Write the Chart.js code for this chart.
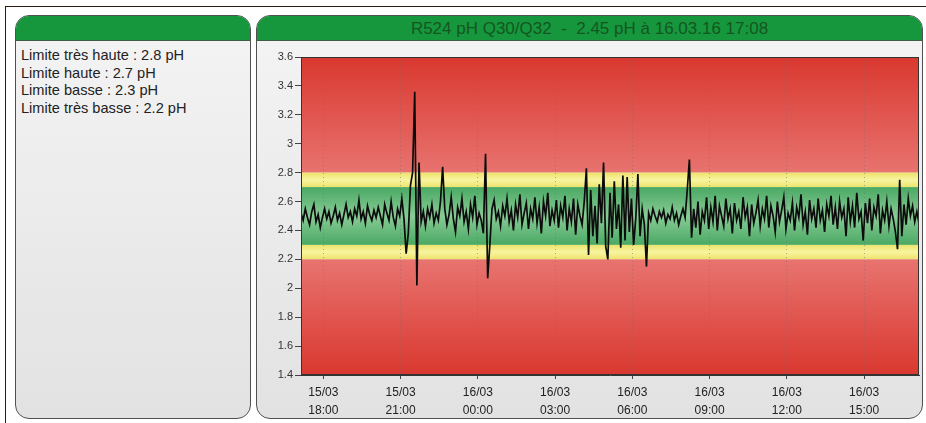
<!DOCTYPE html>
<html>
<head>
<meta charset="utf-8">
<script src="https://cdn.jsdelivr.net/npm/chart.js@4.4.0/dist/chart.umd.min.js"></script>
<style>
  body { margin: 0; background: #fff; width: 926px; height: 423px; overflow: hidden; position: relative; font-family: "Liberation Sans", Arial, sans-serif; }
  .frame { position: absolute; left: 5px; top: 6px; right: -10px; bottom: -10px; border-left: 1.5px solid #2a1a12; border-top: 1.5px solid #2a1a12; }
  .panel { position: absolute; top: 15px; height: 402px; border: 1px solid #505050; border-radius: 14px; overflow: hidden;
           background: linear-gradient(#f4f4f4, #e2e2e2); }
  .panel .head { height: 24px; background: #16973d; border-bottom: 1px solid #3c5c44; text-align: center;
                 color: #14561f; font-size: 17px; line-height: 25px; white-space: pre; }
  #left { left: 15px; width: 234px; }
  #right { left: 256px; width: 665px; }
  #limites { padding: 6px 0 0 5px; font-size: 14.6px; line-height: 17.5px; color: #222; }
  #wrap { position: absolute; left: 258px; top: 42px; width: 664px; height: 376px; }
</style>
</head>
<body>
<div class="frame"></div>
<div class="panel" id="left"><div class="head"></div><div id="limites"></div></div>
<div class="panel" id="right"><div class="head" id="titre"></div></div>
<div id="wrap"><canvas id="chartPh" width="664" height="376"></canvas></div>
<script>
const titre = 'R524 pH Q30/Q32  -  2.45 pH à 16.03.16 17:08';

const limiteNoms = ['Limite très haute', 'Limite haute', 'Limite basse', 'Limite très basse'];
const limiteValeurs = [2.8, 2.7, 2.3, 2.2];

const yMin = 1.4;
const yMax = 3.6;
const yPas = 0.2;

// heures depuis 15/03 00:00
const debutHeure = 17 + 8 / 60;
const finHeure = debutHeure + 24;
const pasMinutes = 5;
const ticksHeures = [18, 21, 24, 27, 30, 33, 36, 39];

// mesures pH, une toutes les 5 minutes depuis 15/03 17:08
const mesuresPh = [
  2.52, 2.47, 2.55, 2.49, 2.44, 2.53, 2.58, 2.46, 2.51, 2.42, 2.49, 2.55,
  2.48, 2.53, 2.45, 2.50, 2.56, 2.47, 2.52, 2.44, 2.51, 2.58, 2.49, 2.53,
  2.46, 2.55, 2.50, 2.61, 2.48, 2.53, 2.45, 2.57, 2.51, 2.47, 2.54, 2.49,
  2.56, 2.50, 2.44, 2.58, 2.52, 2.47, 2.60, 2.49, 2.43, 2.55, 2.50, 2.62,
  2.48, 2.24, 2.38, 2.71, 2.80, 3.36, 2.02, 2.87, 2.46, 2.53, 2.43, 2.55,
  2.49, 2.58, 2.45, 2.52, 2.47, 2.60, 2.84, 2.55, 2.44, 2.51, 2.63, 2.48,
  2.39, 2.56, 2.50, 2.62, 2.46, 2.53, 2.41, 2.58, 2.49, 2.64, 2.44, 2.52,
  2.47, 2.38, 2.93, 2.07, 2.30, 2.55, 2.61, 2.48, 2.53, 2.43, 2.57, 2.50,
  2.62, 2.46, 2.54, 2.40, 2.58, 2.49, 2.65, 2.44, 2.52, 2.59, 2.41, 2.55,
  2.48, 2.63, 2.45, 2.56, 2.38, 2.60, 2.50, 2.66, 2.43, 2.54, 2.47, 2.61,
  2.42, 2.57, 2.49, 2.64, 2.40, 2.55, 2.46, 2.62, 2.37, 2.58, 2.50, 2.44,
  2.60, 2.83, 2.23, 2.68, 2.36, 2.57, 2.31, 2.72, 2.45, 2.87, 2.29, 2.20,
  2.66, 2.35, 2.74, 2.41, 2.58, 2.28, 2.78, 2.33, 2.77, 2.39, 2.62, 2.30,
  2.48, 2.79, 2.36, 2.55, 2.44, 2.15, 2.52, 2.47, 2.55, 2.50, 2.46, 2.53,
  2.49, 2.54, 2.45, 2.51, 2.48, 2.56, 2.47, 2.52, 2.44, 2.50, 2.55, 2.49,
  2.68, 2.89, 2.35, 2.55, 2.42, 2.60, 2.37, 2.53, 2.47, 2.63, 2.41, 2.56,
  2.46, 2.64, 2.40, 2.57, 2.50, 2.43, 2.62, 2.48, 2.55, 2.38, 2.59, 2.47,
  2.53, 2.41, 2.63, 2.49, 2.56, 2.36, 2.58, 2.45, 2.52, 2.61, 2.43, 2.55,
  2.48, 2.64, 2.42, 2.57, 2.50, 2.39, 2.60, 2.46, 2.54, 2.63, 2.41, 2.52,
  2.47, 2.59, 2.40, 2.56, 2.49, 2.65, 2.44, 2.53, 2.37, 2.61, 2.48, 2.55,
  2.42, 2.62, 2.47, 2.54, 2.39, 2.58, 2.50, 2.64, 2.44, 2.56, 2.41, 2.60,
  2.49, 2.55, 2.36, 2.63, 2.46, 2.57, 2.42, 2.66, 2.48, 2.53, 2.33, 2.59,
  2.45, 2.62, 2.40, 2.56, 2.50, 2.65, 2.38, 2.54, 2.47, 2.60, 2.43, 2.55,
  2.48, 2.39, 2.27, 2.75, 2.36, 2.58, 2.44, 2.62, 2.50, 2.57, 2.46, 2.53,
  2.45
];

document.getElementById('titre').textContent = titre;
document.getElementById('limites').innerHTML = limiteNoms
  .map((nom, i) => `<div>${nom} : ${limiteValeurs[i]} pH</div>`).join('');

const points = mesuresPh.map((v, i) => ({ x: debutHeure + i * pasMinutes / 60, y: v }));

function pad2(n) { return String(n).padStart(2, '0'); }

// fond rouge / jaune / vert selon les limites
const pluginZones = {
  id: 'zones',
  beforeDraw(chart) {
    const { ctx, chartArea: a, scales: { y } } = chart;
    const [tresHaute, haute, basse, tresBasse] = limiteValeurs.map(v => y.getPixelForValue(v));
    const w = a.right - a.left;
    ctx.save();

    let g = ctx.createLinearGradient(0, a.top, 0, tresHaute);
    g.addColorStop(0, '#d9382f'); g.addColorStop(1, '#e8736f');
    ctx.fillStyle = g; ctx.fillRect(a.left, a.top, w, tresHaute - a.top);

    g = ctx.createLinearGradient(0, tresHaute, 0, haute);
    g.addColorStop(0, '#ede26a'); g.addColorStop(0.5, '#f8f4a0'); g.addColorStop(1, '#ebe46e');
    ctx.fillStyle = g; ctx.fillRect(a.left, tresHaute, w, haute - tresHaute);

    g = ctx.createLinearGradient(0, haute, 0, basse);
    g.addColorStop(0, '#4aa963'); g.addColorStop(0.5, '#88cb96'); g.addColorStop(1, '#4aa963');
    ctx.fillStyle = g; ctx.fillRect(a.left, haute, w, basse - haute);

    g = ctx.createLinearGradient(0, basse, 0, tresBasse);
    g.addColorStop(0, '#ebe46e'); g.addColorStop(0.5, '#f8f4a0'); g.addColorStop(1, '#ede26a');
    ctx.fillStyle = g; ctx.fillRect(a.left, basse, w, tresBasse - basse);

    g = ctx.createLinearGradient(0, tresBasse, 0, a.bottom);
    g.addColorStop(0, '#e8736f'); g.addColorStop(1, '#d9382f');
    ctx.fillStyle = g; ctx.fillRect(a.left, tresBasse, w, a.bottom - tresBasse);

    ctx.restore();
  },
  afterDatasetsDraw(chart) {
    const { ctx, chartArea: a } = chart;
    ctx.save();
    ctx.strokeStyle = '#333';
    ctx.lineWidth = 1;
    ctx.strokeRect(a.left + 0.5, a.top + 0.5, a.right - a.left - 1, a.bottom - a.top - 1);
    ctx.restore();
  }
};

new Chart(document.getElementById('chartPh').getContext('2d'), {
  type: 'line',
  data: {
    datasets: [{
      data: points,
      borderColor: '#0c0c0c',
      borderWidth: 1.7,
      pointRadius: 0,
      tension: 0
    }]
  },
  options: {
    responsive: false,
    animation: false,
    layout: { padding: { top: 15, right: 3, left: 0, bottom: 0 } },
    plugins: { legend: { display: false }, tooltip: { enabled: false }, title: { display: false } },
    scales: {
      x: {
        type: 'linear',
        min: debutHeure,
        max: finHeure,
        afterBuildTicks: scale => { scale.ticks = ticksHeures.map(v => ({ value: v })); },
        afterFit: scale => { scale.height = 43; },
        grid: { color: 'rgba(110,110,110,0.55)', tickColor: '#444', tickLength: 4 },
        border: { display: true, color: '#333', dash: [1, 3] },
        ticks: {
          padding: 5,
          maxRotation: 0,
          autoSkip: false,
          color: '#222',
          font: { family: 'Liberation Sans', size: 12, lineHeight: 1.5 },
          callback: v => [(v < 24 ? '15/03' : '16/03'), pad2(Math.round(v) % 24) + ':00']
        }
      },
      y: {
        min: yMin,
        max: yMax,
        afterFit: scale => { scale.width = 43; },
        grid: { drawOnChartArea: false, tickColor: '#444', tickLength: 6 },
        border: { display: true, color: '#333' },
        ticks: {
          stepSize: yPas,
          padding: 2,
          color: '#333',
          font: { family: 'Liberation Sans', size: 11 },
          callback: v => String(Number(v.toFixed(1)))
        }
      }
    }
  },
  plugins: [pluginZones]
});
</script>
</body>
</html>
